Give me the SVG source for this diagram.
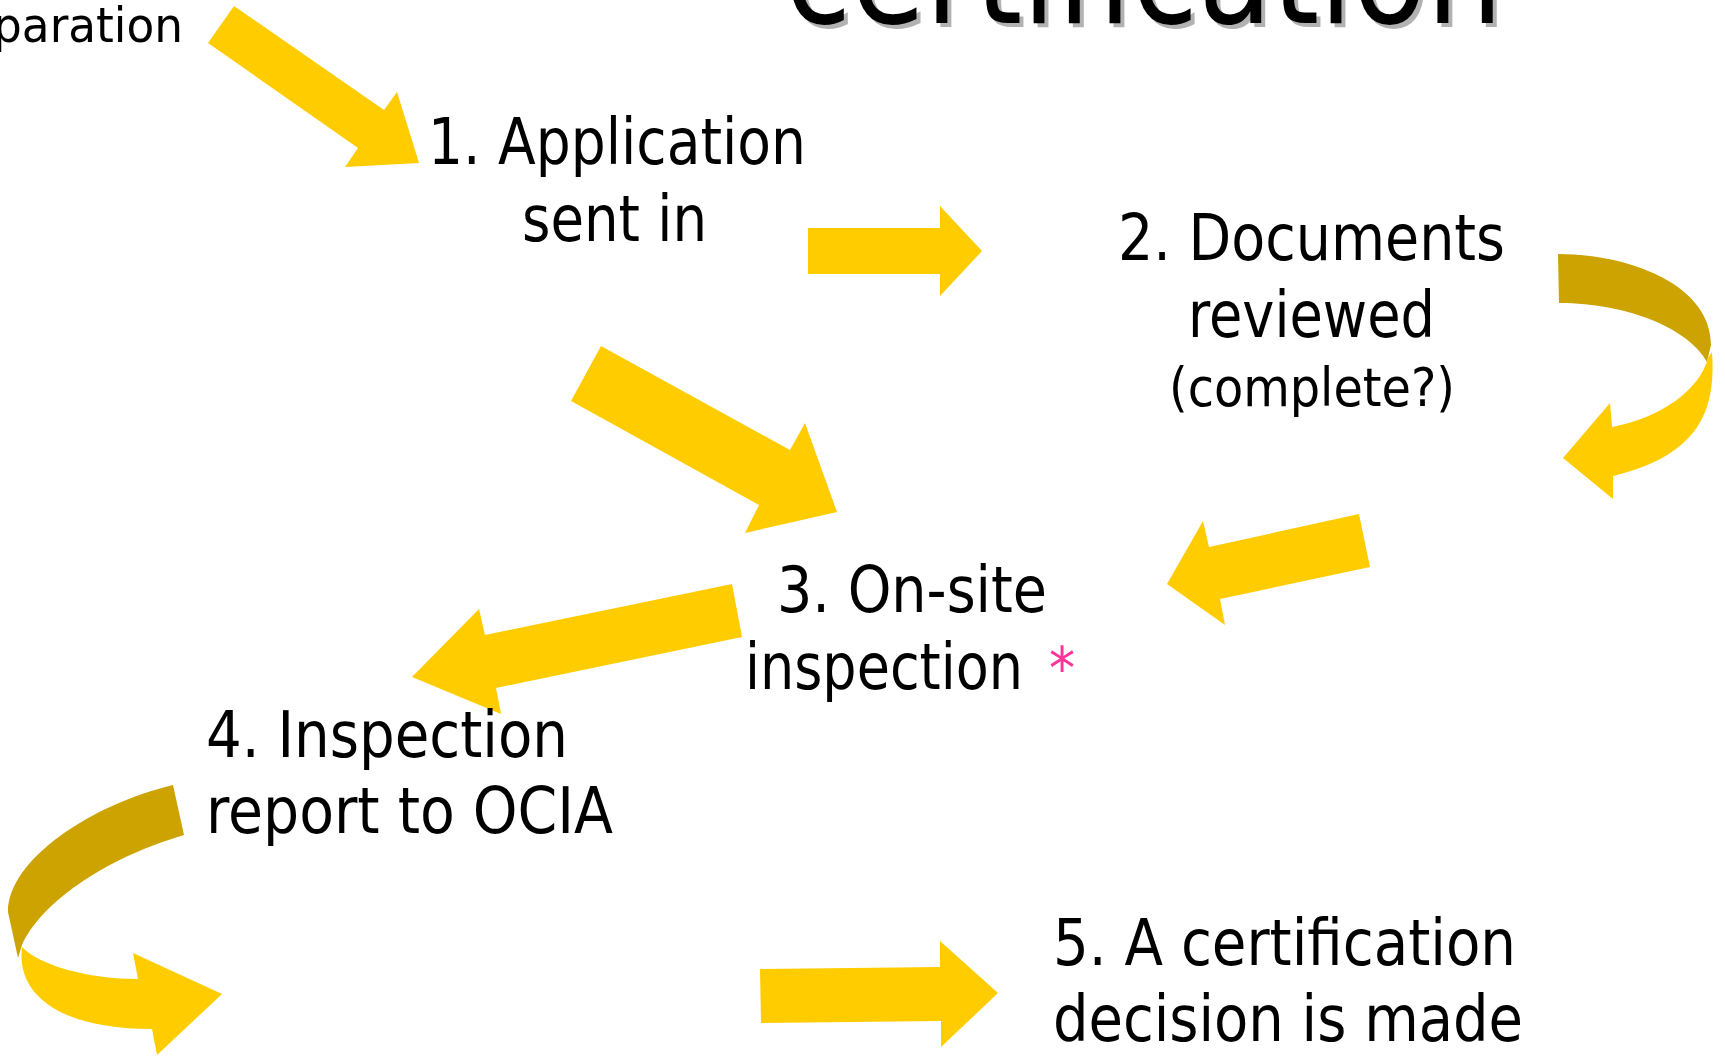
<svg xmlns="http://www.w3.org/2000/svg" width="1725" height="1056" viewBox="0 0 1725 1056">
<style>
  .t{font-family:"DejaVu Sans Condensed","DejaVu Sans",sans-serif;font-stretch:condensed;fill:#000000;}
  .b{font-size:64px;}
  .s{font-size:54px;}
  .p{font-size:48px;}
  .ttl{font-size:140px;}
  .sh{fill:#B2B2B2;}
  .star{fill:#FF3399;font-size:58px;}
  .y{fill:#FFCC00;}
  .d{fill:#CCA300;}
</style>
<rect x="0" y="0" width="1725" height="1056" fill="#FFFFFF"/>
<g id="title">
  <text class="t ttl sh" x="789" y="27" textLength="718" lengthAdjust="spacingAndGlyphs" style="fill:#B2B2B2">certification</text>
  <text class="t ttl" x="785" y="23" textLength="718" lengthAdjust="spacingAndGlyphs">certification</text>
</g>
<g id="connectors">
  <polygon class="y" points="234,6 384,110 397,92 419,163 345,167 358,148 208,43"/>
  <polygon class="y" points="808,228 940,228 940,206 982,251 940,296 940,274 808,274"/>
  <polygon class="y" points="601,346 790,450 805,423 837,512 745,533 759,505 571,401"/>
  <g id="curve-right">
    <path class="d" d="M1558,254 C1630,254 1711,285 1711,345 L1707,362 C1690,330 1630,303 1559,303 Z"/>
    <path class="y" d="M1712,352 C1716,410 1700,455 1613,476 L1613,499 L1563,458 L1610,403 L1612,427 C1660,418 1700,390 1708,358 Z"/>
  </g>
  <polygon class="y" points="1359,514 1370,567 1220,599 1225,625 1167,584 1203,521 1209,547"/>
  <polygon class="y" points="732,584 742,637 496,688 501,714 412,677 479,609 485,635"/>
  <g id="curve-left">
    <path class="d" d="M173,785 C90,805 8,860 8,912 L18,958 L22,945 C40,905 100,860 184,835 Z"/>
    <path class="y" d="M22,947 C16,995 60,1029 152,1029 L157,1055 L222,994 L133,953 L138,979 C90,979 40,966 22,947 Z"/>
  </g>
  <polygon class="y" points="760,969 940,967 940,941 998,993 941,1047 941,1021 761,1023"/>
</g>
<g id="node-prep">
  <text class="t p" x="-7" y="42" textLength="190" lengthAdjust="spacingAndGlyphs">paration</text>
</g>
<g id="node-1">
  <text class="t b" x="428" y="164" textLength="378" lengthAdjust="spacingAndGlyphs">1. Application</text>
  <text class="t b" x="522" y="241" textLength="185" lengthAdjust="spacingAndGlyphs">sent in</text>
</g>
<g id="node-2">
  <text class="t b" x="1118" y="260" textLength="387" lengthAdjust="spacingAndGlyphs">2. Documents</text>
  <text class="t b" x="1188" y="337" textLength="247" lengthAdjust="spacingAndGlyphs">reviewed</text>
  <text class="t s" x="1169" y="406" textLength="286" lengthAdjust="spacingAndGlyphs">(complete?)</text>
</g>
<g id="node-3">
  <text class="t b" x="777" y="612" textLength="270" lengthAdjust="spacingAndGlyphs">3. On-site</text>
  <text class="t b" x="745" y="689" textLength="278" lengthAdjust="spacingAndGlyphs">inspection</text>
  <text class="t star" x="1049" y="689" style="fill:#FF3399">*</text>
</g>
<g id="node-4">
  <text class="t b" x="206" y="757" textLength="362" lengthAdjust="spacingAndGlyphs">4. Inspection</text>
  <text class="t b" x="206" y="833" textLength="407" lengthAdjust="spacingAndGlyphs">report to OCIA</text>
</g>
<g id="node-5">
  <text class="t b" x="1053" y="965" textLength="463" lengthAdjust="spacingAndGlyphs">5. A certification</text>
  <text class="t b" x="1053" y="1041" textLength="470" lengthAdjust="spacingAndGlyphs">decision is made</text>
</g>
</svg>
